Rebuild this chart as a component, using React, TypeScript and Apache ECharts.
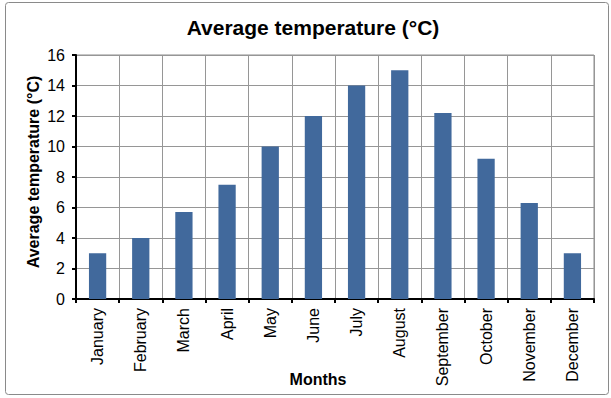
import React, { useEffect, useRef } from "react";
import * as echarts from "echarts";

const months = ["January", "February", "March", "April", "May", "June", "July", "August", "September", "October", "November", "December"];
const temperatures = [3, 4, 5.7, 7.5, 10, 12, 14, 15, 12.2, 9.2, 6.3, 3];
const yTicks = { min: 0, max: 16, interval: 2 };

export default function App() {
  const ref = useRef<HTMLDivElement>(null);
  useEffect(() => {
    if (!ref.current) return;
    const chart = echarts.init(ref.current, undefined, { renderer: "svg" });
    const font = "Arial, 'Liberation Sans', sans-serif";
    chart.setOption({
      animation: false,
      backgroundColor: "#ffffff",
      textStyle: { fontFamily: font },
      title: {
        text: "Average temperature (°C)",
        left: 308,
        textAlign: "center",
        top: 12,
        textStyle: { fontFamily: font, fontSize: 21, fontWeight: "bold", color: "#000" },
      },
      graphic: [
        {
          type: "rect",
          shape: { x: 5.5, y: 2.5, width: 603, height: 392, r: 3 },
          style: { fill: "none", stroke: "#8a8a8a", lineWidth: 1 },
          silent: true,
          z: -1,
        },
      ],
      grid: {
        left: 76, right: 17, top: 55, bottom: 99,
        containLabel: false, outerBoundsMode: "none",
        show: true, borderColor: "#8c8c8c", borderWidth: 1,
      },
      xAxis: {
        type: "category",
        data: months,
        name: "Months",
        nameLocation: "middle",
        nameGap: 72,
        nameMoveOverlap: false,
        nameTextStyle: { fontFamily: font, fontSize: 16, fontWeight: "bold", color: "#000", padding: [0, 34, 0, 0] },
        axisLine: { show: true, lineStyle: { color: "#000", width: 2 } },
        axisTick: { show: true, alignWithLabel: false, length: 4, inside: false, lineStyle: { color: "#000", width: 2 } },
        axisLabel: { rotate: 90, fontFamily: font, fontSize: 16, color: "#000", margin: 9, interval: 0 },
        splitLine: { show: true, interval: 0, lineStyle: { color: "#969696", width: 1 } },
      },
      yAxis: {
        type: "value",
        min: yTicks.min,
        max: yTicks.max,
        interval: yTicks.interval,
        name: "Average temperature (°C)",
        nameLocation: "middle",
        nameGap: 35,
        nameMoveOverlap: false,
        nameTextStyle: { fontFamily: font, fontSize: 16, fontWeight: "bold", color: "#000", padding: [0, 0, 0, 10] },
        axisLine: { show: true, lineStyle: { color: "#000", width: 2 } },
        axisTick: { show: true, length: 4, lineStyle: { color: "#000", width: 2 } },
        axisLabel: { fontFamily: font, fontSize: 16, color: "#000", margin: 11 },
        splitLine: { show: true, lineStyle: { color: "#969696", width: 1 } },
      },
      series: [
        {
          type: "bar",
          data: temperatures,
          barWidth: "40%",
          itemStyle: { color: "#41699c" },
        },
      ],
    });
    return () => chart.dispose();
  }, []);
  return <div ref={ref} style={{ position: "fixed", left: 0, top: 0, width: 611, height: 398 }} />;
}
